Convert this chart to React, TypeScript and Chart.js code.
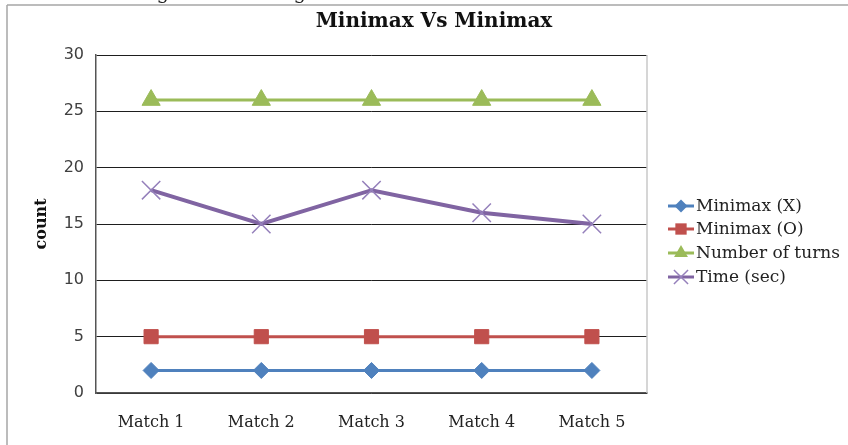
import React, { useEffect, useRef } from "react";
import { Chart, registerables } from "chart.js";

Chart.register(...registerables);

const categories = ["Match 1", "Match 2", "Match 3", "Match 4", "Match 5"];
const minimaxX = [2, 2, 2, 2, 2];
const minimaxO = [5, 5, 5, 5, 5];
const numberOfTurns = [26, 26, 26, 26, 26];
const timeSec = [18, 15, 18, 16, 15];
const seriesNames = ["Minimax (X)", "Minimax (O)", "Number of turns", "Time (sec)"];
const yTicks = [0, 5, 10, 15, 20, 25, 30];
const titleText = "Minimax Vs Minimax";
const yTitle = "count";

const COLORS = ["#4F81BD", "#C0504D", "#9BBB59", "#8064A2"];
const STYLES = ["rectRot", "rect", "triangle", "crossRot"];
const RADII = [8, 10, 10.5, 13];
const LINE_W = [3, 3, 3, 4];

export default function App() {
  const ref = useRef<HTMLCanvasElement | null>(null);

  useEffect(() => {
    document.body.style.margin = "0";
    const canvas = ref.current;
    if (!canvas) return;

    function drawMarker(ctx: CanvasRenderingContext2D, style: string, x: number, y: number, r: number) {
      ctx.beginPath();
      if (style === "rectRot") {
        ctx.moveTo(x - r, y);
        ctx.lineTo(x, y - r);
        ctx.lineTo(x + r, y);
        ctx.lineTo(x, y + r);
        ctx.closePath();
        ctx.fill();
      } else if (style === "rect") {
        const s = r * Math.SQRT1_2;
        ctx.rect(x - s, y - s, 2 * s, 2 * s);
        ctx.fill();
      } else if (style === "triangle") {
        const h = r;
        ctx.moveTo(x, y - h);
        ctx.lineTo(x + h * 0.866, y + h * 0.5);
        ctx.lineTo(x - h * 0.866, y + h * 0.5);
        ctx.closePath();
        ctx.fill();
      } else {
        const s = r * Math.SQRT1_2;
        ctx.moveTo(x - s, y - s);
        ctx.lineTo(x + s, y + s);
        ctx.moveTo(x - s, y + s);
        ctx.lineTo(x + s, y - s);
        ctx.stroke();
      }
    }

    const decor = {
      id: "decor",
      beforeDraw(chart: any) {
        const ctx = chart.ctx;
        ctx.save();
        // cut-off line of document text above the figure
        ctx.fillStyle = "#222";
        ctx.font = "20px 'DejaVu Serif'";
        ctx.textAlign = "center";
        ctx.textBaseline = "alphabetic";
        ctx.fillText("g", 163, -1);
        ctx.fillText("g", 300, -1);
        ctx.fillStyle = "#fff";
        ctx.fillRect(0, 5, 848, 440);
        ctx.strokeStyle = "#a6a6a6";
        ctx.lineWidth = 1.5;
        ctx.beginPath();
        ctx.moveTo(7, 5);
        ctx.lineTo(848, 5);
        ctx.moveTo(7, 5);
        ctx.lineTo(7, 445);
        ctx.stroke();
        ctx.restore();
      },
      beforeDatasetsDraw(chart: any) {
        const ctx = chart.ctx;
        const a = chart.chartArea;
        ctx.save();
        ctx.strokeStyle = "#c8c8c8";
        ctx.lineWidth = 1.5;
        ctx.beginPath();
        ctx.moveTo(a.right, a.top);
        ctx.lineTo(a.right, a.bottom);
        ctx.stroke();
        ctx.restore();
      },
      afterDraw(chart: any) {
        const ctx = chart.ctx;
        const a = chart.chartArea;
        ctx.save();
        ctx.fillStyle = "#111";
        ctx.font = "bold 20px 'DejaVu Serif'";
        ctx.textAlign = "center";
        ctx.textBaseline = "middle";
        ctx.fillText(titleText, 434, 22);
        ctx.save();
        ctx.translate(42, (a.top + a.bottom) / 2);
        ctx.rotate(-Math.PI / 2);
        ctx.font = "bold 16px 'DejaVu Serif'";
        ctx.fillText(yTitle, 0, 0);
        ctx.restore();
        const x0 = 668;
        const ys = [206, 229, 253, 277];
        ctx.textAlign = "left";
        ctx.font = "17px 'DejaVu Serif'";
        chart.data.datasets.forEach((ds: any, i: number) => {
          const y = ys[i];
          ctx.strokeStyle = ds.borderColor;
          ctx.lineWidth = 3;
          ctx.beginPath();
          ctx.moveTo(x0, y);
          ctx.lineTo(x0 + 26, y);
          ctx.stroke();
          ctx.fillStyle = ds.pointBackgroundColor;
          ctx.strokeStyle = ds.pointBorderColor;
          ctx.lineWidth = 1.5;
          const r = i === 3 ? 10 : i === 0 ? 6.5 : 8;
          drawMarker(ctx, STYLES[i], x0 + 13, y, r);
          ctx.fillStyle = "#222";
          ctx.fillText(ds.label, x0 + 28, y + 1);
        });
        ctx.restore();
      },
    };

    const series = [minimaxX, minimaxO, numberOfTurns, timeSec];
    const chart = new Chart(canvas, {
      type: "line",
      data: {
        labels: categories,
        datasets: series.map((d, i) => ({
          label: seriesNames[i],
          data: d,
          borderColor: COLORS[i],
          backgroundColor: COLORS[i],
          borderWidth: LINE_W[i],
          pointStyle: STYLES[i] as any,
          pointRadius: RADII[i],
          pointBorderWidth: i === 3 ? 1.5 : 1,
          pointBackgroundColor: COLORS[i],
          pointBorderColor: i === 3 ? "#9580bb" : COLORS[i],
          tension: 0,
        })),
      },
      options: {
        animation: false,
        responsive: false,
        layout: { padding: { top: 55, right: 201, bottom: 0, left: 0 } },
        plugins: {
          legend: { display: false },
          title: { display: false },
          tooltip: { enabled: false },
        },
        scales: {
          x: {
            offset: true,
            grid: { display: false },
            border: { display: true, color: "#555", width: 1.5 },
            ticks: {
              font: { family: "'DejaVu Serif'", size: 16 },
              color: "#222",
              padding: 12,
              maxRotation: 0,
            },
            afterFit: (s: any) => {
              s.height = 52;
            },
          },
          y: {
            min: 0,
            max: 30,
            afterBuildTicks: (s: any) => {
              s.ticks = yTicks.map((v) => ({ value: v }));
            },
            grid: { color: "#1e1e1e", lineWidth: 1, drawTicks: false },
            border: { display: true, color: "#555", width: 1.5 },
            ticks: {
              font: { family: "'DejaVu Sans'", size: 16 },
              color: "#404040",
              padding: 12,
            },
            afterFit: (s: any) => {
              s.width = 96;
            },
          },
        },
      },
      plugins: [decor],
    });
    return () => chart.destroy();
  }, []);

  return (
    <canvas
      ref={ref}
      width={848}
      height={445}
      style={{ display: "block", width: 848, height: 445 }}
    />
  );
}
